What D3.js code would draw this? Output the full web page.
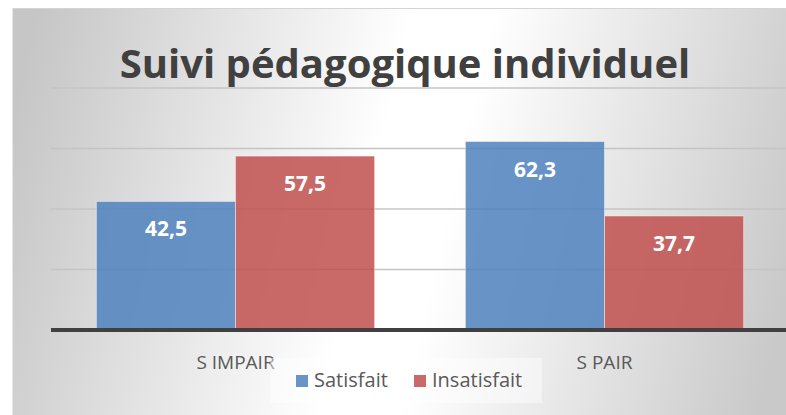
<!DOCTYPE html>
<html><head><meta charset="utf-8">
<script src="https://cdn.jsdelivr.net/npm/d3@7"></script>
<style>html,body{margin:0;padding:0;background:#fff;}svg{display:block;}</style>
</head><body>
<script>
const categories = ["S IMPAIR", "S PAIR"];
const seriesNames = ["Satisfait", "Insatisfait"];
const satisfait = [42.5, 62.3];
const insatisfait = [57.5, 37.7];
const gridTicks = [0, 20, 40, 60, 80];
const colors = ["#4F81BD", "#C0504D"];
const title = "Suivi pédagogique individuel";

const W = 786, H = 415;
const font = "'Open Sans', 'DejaVu Sans', sans-serif";
const svg = d3.select("body").append("svg").attr("width", W).attr("height", H);

const defs = svg.append("defs");
const lg = defs.append("linearGradient").attr("id", "bg")
  .attr("gradientUnits", "userSpaceOnUse")
  .attr("x1", 12).attr("y1", 120).attr("x2", 786).attr("y2", 300);
lg.append("stop").attr("offset", "0").attr("stop-color", "#c6c6c6");
lg.append("stop").attr("offset", "0.46").attr("stop-color", "#ffffff");
lg.append("stop").attr("offset", "0.56").attr("stop-color", "#ffffff");
lg.append("stop").attr("offset", "1").attr("stop-color", "#c9c9c9");

svg.append("rect").attr("x", 12).attr("y", 8).attr("width", W - 12).attr("height", H - 8)
  .attr("fill", "url(#bg)");
svg.append("line").attr("x1", 12).attr("x2", W).attr("y1", 8.5).attr("y2", 8.5)
  .attr("stroke", "#d4d4d4").attr("stroke-width", 1);
svg.append("line").attr("x1", 12.5).attr("x2", 12.5).attr("y1", 8).attr("y2", H)
  .attr("stroke", "#e6e6e6").attr("stroke-width", 1);

const data = categories.map((c, i) => ({cat: c, vals: [satisfait[i], insatisfait[i]]}));

const x0 = d3.scaleBand().domain(categories).range([51, 789]).paddingInner(0.246).paddingOuter(0.123);
const x1 = d3.scaleBand().domain(seriesNames).range([0, x0.bandwidth()]);
const y = d3.scaleLinear().domain([0, 80]).range([330, 88]);

// gridlines
svg.append("g").selectAll("line").data(gridTicks.filter(t => t > 0)).join("line")
  .attr("x1", 51).attr("x2", W)
  .attr("y1", d => y(d)).attr("y2", d => y(d))
  .attr("stroke", "#c4c4c4").attr("stroke-width", 1.5);

// bars
const g = svg.append("g").selectAll("g").data(data).join("g")
  .attr("transform", d => `translate(${x0(d.cat)},0)`);
g.selectAll("rect").data(d => d.vals.map((v, i) => ({v, s: seriesNames[i], i}))).join("rect")
  .attr("x", d => x1(d.s)).attr("width", x1.bandwidth())
  .attr("y", d => y(d.v)).attr("height", d => y(0) - y(d.v))
  .attr("fill", d => colors[d.i]).attr("fill-opacity", 0.85)
  .attr("stroke", "#ffffff").attr("stroke-opacity", 0.45).attr("stroke-width", 1);
g.selectAll("text").data(d => d.vals.map((v, i) => ({v, s: seriesNames[i], i}))).join("text")
  .attr("x", d => x1(d.s) + x1.bandwidth() / 2)
  .attr("y", d => y(d.v) + 35)
  .attr("text-anchor", "middle")
  .attr("font-family", font).attr("font-weight", "bold").attr("font-size", 21)
  .attr("fill", "#ffffff")
  .text(d => d3.format(".1f")(d.v).replace(".", ","));

// axis
const xAxis = d3.axisBottom(x0).tickSize(0).tickPadding(0);
const ax = svg.append("g").attr("transform", `translate(0,${y(0)})`).call(xAxis);
ax.select(".domain").remove();
ax.selectAll("text").attr("font-family", font).attr("font-size", 19).attr("fill", "#595959")
  .attr("dy", null).attr("y", 39);
svg.append("line").attr("x1", 51).attr("x2", W).attr("y1", y(0)).attr("y2", y(0))
  .attr("stroke", "#404040").attr("stroke-width", 4);

// title
svg.append("text").attr("x", 405).attr("y", 78).attr("text-anchor", "middle")
  .attr("font-family", font).attr("font-weight", "bold").attr("font-size", 40)
  .attr("fill", "#404040").text(title);

// legend
const leg = svg.append("g");
leg.append("rect").attr("x", 270).attr("y", 358).attr("width", 272).attr("height", 45)
  .attr("fill", "#ffffff").attr("fill-opacity", 0.45);
const legX = [296, 414];
seriesNames.forEach((s, i) => {
  leg.append("rect").attr("x", legX[i]).attr("y", 375).attr("width", 12).attr("height", 12)
    .attr("fill", colors[i]).attr("fill-opacity", 0.85);
  leg.append("text").attr("x", legX[i] + 18).attr("y", 387)
    .attr("font-family", font).attr("font-size", 20).attr("fill", "#595959").text(s);
});
</script>
</body></html>
